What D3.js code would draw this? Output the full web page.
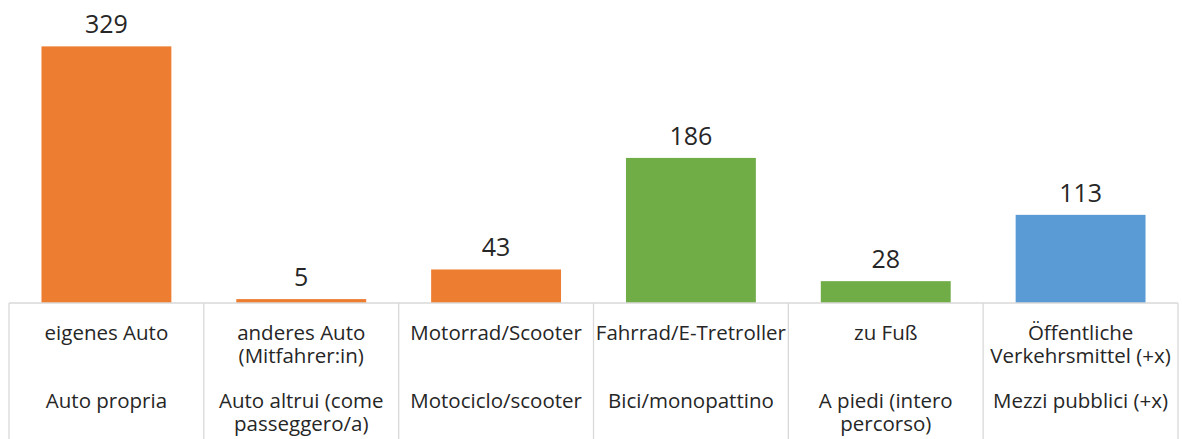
<!DOCTYPE html>
<html>
<head>
<meta charset="utf-8">
<title>Verkehrsmittel</title>
<script src="https://cdn.jsdelivr.net/npm/d3@7"></script>
<style>
  body { margin: 0; background: #fff; }
  svg { display: block; font-family: "Open Sans", "Noto Sans", sans-serif; }
</style>
</head>
<body>
<svg id="chart"></svg>
<script>
// Daten
var labelsDe = [["eigenes Auto"], ["anderes Auto", "(Mitfahrer:in)"], ["Motorrad/Scooter"],
                ["Fahrrad/E-Tretroller"], ["zu Fuß"], ["Öffentliche", "Verkehrsmittel (+x)"]];
var labelsIt = [["Auto propria"], ["Auto altrui (come", "passeggero/a)"], ["Motociclo/scooter"],
                ["Bici/monopattino"], ["A piedi (intero", "percorso)"], ["Mezzi pubblici (+x)"]];
var values = [329, 5, 43, 186, 28, 113];
var groups = ["auto", "auto", "auto", "rad", "fuss", "oev"];

var width = 1182, height = 439;
var color = { auto: "#ED7D31", rad: "#70AD47", fuss: "#70AD47", oev: "#5B9BD5" };

var svg = d3.select("#chart").attr("width", width).attr("height", height);

var x = d3.scaleBand()
    .domain(d3.range(values.length))
    .range([9, 1178])
    .paddingInner(0)
    .paddingOuter(0);

var y = d3.scaleLinear().domain([0, 350]).range([303, 30]);

var barW = x.bandwidth() / 1.5;

// Balken
svg.selectAll("rect.bar")
  .data(values)
  .join("rect")
    .attr("class", "bar")
    .attr("x", (d, i) => x(i) + (x.bandwidth() - barW) / 2)
    .attr("y", d => y(d))
    .attr("width", barW)
    .attr("height", d => y(0) - y(d))
    .attr("fill", (d, i) => color[groups[i]]);

// Werte
svg.selectAll("text.val")
  .data(values)
  .join("text")
    .attr("class", "val")
    .attr("x", (d, i) => x(i) + x.bandwidth() / 2)
    .attr("y", d => y(d) - 13)
    .attr("text-anchor", "middle")
    .attr("fill", "#262626")
    .style("font-size", "25px")
    .text(d => d);

// Achse + Trennlinien
var gAxis = svg.append("g").attr("stroke", "#D9D9D9").attr("stroke-width", 1.3);
gAxis.append("line")
    .attr("x1", x.range()[0]).attr("x2", x.range()[1])
    .attr("y1", y(0)).attr("y2", y(0));
var bounds = d3.range(values.length).map(i => x(i)).concat([x.range()[1]]);
gAxis.selectAll("line.sep")
  .data(bounds)
  .join("line")
    .attr("class", "sep")
    .attr("x1", d => d).attr("x2", d => d)
    .attr("y1", y(0)).attr("y2", height);

// Kategorien (zwei Sprachen, je eigene Textzeilen)
var cat = svg.selectAll("g.cat")
  .data(d3.range(values.length))
  .join("g")
    .attr("class", "cat")
    .attr("transform", i => `translate(${x(i) + x.bandwidth() / 2},0)`)
    .attr("text-anchor", "middle")
    .attr("fill", "#262626")
    .style("font-size", "20.5px");

cat.selectAll("text.de")
  .data(i => labelsDe[i])
  .join("text")
    .attr("class", "de")
    .attr("x", 0)
    .attr("y", (d, j) => 340 + j * 23)
    .text(d => d);

cat.selectAll("text.it")
  .data(i => labelsIt[i])
  .join("text")
    .attr("class", "it")
    .attr("x", 0)
    .attr("y", (d, j) => 408 + j * 23)
    .text(d => d);
</script>
</body>
</html>
